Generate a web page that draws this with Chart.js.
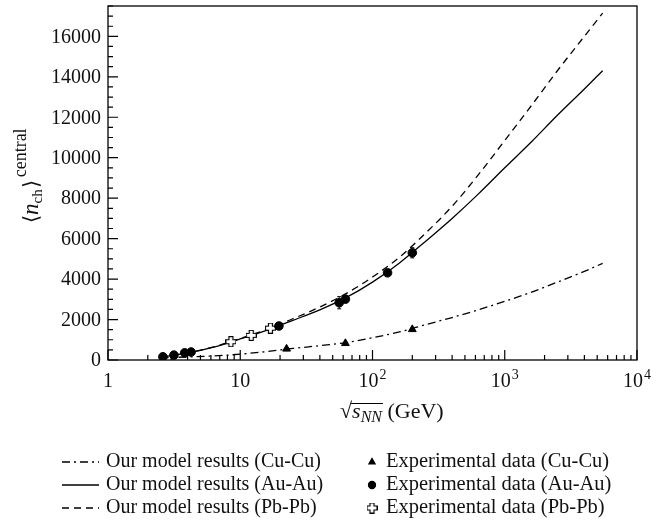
<!DOCTYPE html>
<html>
<head>
<meta charset="utf-8">
<script src="https://cdn.jsdelivr.net/npm/chart.js@4.4.0/dist/chart.umd.min.js"></script>
<style>
    html, body { margin: 0; padding: 0; background: #fff; }
    #wrap { width: 666px; height: 523px; }
</style>
</head>
<body>
<div id="wrap"><canvas id="myChart" width="666" height="523"></canvas></div>
<script>
// model curves: sqrt(s_NN) in GeV -> <n_ch> central
model_x = [2.5, 4, 6.3, 10, 16, 25, 40, 63, 100, 160, 250, 400, 630, 1000, 1600, 2500, 4000, 5500];
model_cucu = [110, 150, 200, 290, 420, 570, 710, 860, 1100, 1390, 1740, 2100, 2480, 2900, 3360, 3850, 4380, 4780];
model_auau = [140, 350, 640, 1040, 1480, 1960, 2480, 3080, 3850, 4800, 5850, 7000, 8200, 9500, 10800, 12100, 13400, 14300];
model_pbpb = [140, 355, 650, 1060, 1520, 2040, 2620, 3280, 4100, 5080, 6250, 7600, 9150, 10850, 12600, 14300, 16000, 17150];

// experimental points
exp_cucu_x = [22.4, 62.4, 200];
exp_cucu = [550, 825, 1515];
exp_auau_x = [2.6, 3.15, 3.8, 4.25, 19.6, 56, 62.4, 130, 200];
exp_auau = [160, 240, 355, 395, 1680, 2830, 3010, 4310, 5300];
exp_auau_err = [0, 0, 0, 0, 0, 300, 0, 0, 250];
exp_pbpb_x = [8.5, 12.1, 16.9];
exp_pbpb = [905, 1220, 1575];

// axis ticks
x_ticks = [1, 10, 100, 1000, 10000];
x_tick_base = ['1', '10', '10', '10', '10'];
x_tick_sup = ['', '', '2', '3', '4'];
y_ticks = [0, 2000, 4000, 6000, 8000, 10000, 12000, 14000, 16000];

legend_left = ['Our model results (Cu-Cu)', 'Our model results (Au-Au)', 'Our model results (Pb-Pb)'];
legend_right = ['Experimental data (Cu-Cu)', 'Experimental data (Au-Au)', 'Experimental data (Pb-Pb)'];

var FONT = '"Liberation Serif", "Times New Roman", serif';
var INK = '#111';

function pts(xs, ys) {
    return xs.map((x, i) => ({ x: x, y: ys[i] }));
}

// open "plus" marker used for Pb-Pb data
function crossImg() {
    var c = document.createElement('canvas');
    c.width = 11; c.height = 11;
    var g = c.getContext('2d');
    var p = [[3.5, 0.5], [7.5, 0.5], [7.5, 3.5], [10.5, 3.5], [10.5, 7.5], [7.5, 7.5], [7.5, 10.5], [3.5, 10.5], [3.5, 7.5], [0.5, 7.5], [0.5, 3.5], [3.5, 3.5]];
    g.beginPath();
    g.moveTo(p[0][0], p[0][1]);
    for (var i = 1; i < p.length; i++) g.lineTo(p[i][0], p[i][1]);
    g.closePath();
    g.fillStyle = '#fff';
    g.fill();
    g.strokeStyle = '#000';
    g.lineWidth = 1.2;
    g.stroke();
    return c;
}
var cross = crossImg();

var dashCu = [8, 4, 2, 4];
var dashPb = [7, 5];

function lineSet(label, ys, dash) {
    return {
        label: label, data: pts(model_x, ys), showLine: true, borderColor: '#000', borderWidth: 1.3,
        borderDash: dash, pointRadius: 0, fill: false, cubicInterpolationMode: 'monotone', order: 2
    };
}
function pointSet(label, xs, ys, style, r) {
    return {
        label: label, data: pts(xs, ys), showLine: false, pointStyle: style, pointRadius: r,
        backgroundColor: '#000', borderColor: '#000', borderWidth: 1, order: 1
    };
}

var datasets = [
    lineSet(legend_left[0], model_cucu, dashCu),
    lineSet(legend_left[1], model_auau, []),
    lineSet(legend_left[2], model_pbpb, dashPb),
    pointSet(legend_right[0], exp_cucu_x, exp_cucu, 'triangle', 4.5),
    pointSet(legend_right[1], exp_auau_x, exp_auau, 'circle', 4.3),
    pointSet(legend_right[2], exp_pbpb_x, exp_pbpb, cross, 5)
];

function supText(ctx, base, sup, x, y, size, align) {
    ctx.font = size + 'px ' + FONT;
    var wb = ctx.measureText(base).width;
    ctx.font = Math.round(size * 0.7) + 'px ' + FONT;
    var ws = sup ? ctx.measureText(sup).width + 1 : 0;
    var start = align == 'center' ? x - (wb + ws) / 2 : x;
    ctx.textAlign = 'left';
    ctx.font = size + 'px ' + FONT;
    ctx.fillText(base, start, y);
    if (sup) {
        ctx.font = Math.round(size * 0.7) + 'px ' + FONT;
        ctx.fillText(sup, start + wb + 1, y - size * 0.42);
    }
}

var framePlugin = {
    id: 'frame',
    beforeDatasetsDraw: function (chart) {
        // error bars of Au-Au data
        var ctx = chart.ctx, xs = chart.scales.x, ys = chart.scales.y;
        ctx.save();
        ctx.strokeStyle = '#000';
        ctx.lineWidth = 1;
        exp_auau_x.forEach(function (x, i) {
            if (!exp_auau_err[i]) return;
            var px = xs.getPixelForValue(x);
            var y1 = ys.getPixelForValue(exp_auau[i] - exp_auau_err[i]);
            var y2 = ys.getPixelForValue(exp_auau[i] + exp_auau_err[i]);
            ctx.beginPath();
            ctx.moveTo(px, y1); ctx.lineTo(px, y2);
            ctx.moveTo(px - 2, y1); ctx.lineTo(px + 2, y1);
            ctx.moveTo(px - 2, y2); ctx.lineTo(px + 2, y2);
            ctx.stroke();
        });
        ctx.restore();
    },
    afterDraw: function (chart) {
        var ctx = chart.ctx, a = chart.chartArea, xs = chart.scales.x, ys = chart.scales.y;
        ctx.save();
        ctx.strokeStyle = '#000';
        ctx.fillStyle = INK;
        ctx.lineWidth = 1.3;
        ctx.strokeRect(a.left, a.top, a.right - a.left, a.bottom - a.top);

        // x ticks (inward)
        ctx.lineWidth = 1.2;
        ctx.beginPath();
        for (var k = 0; k < x_ticks.length; k++) {
            var v = x_ticks[k];
            var px = xs.getPixelForValue(v);
            ctx.moveTo(px, a.bottom); ctx.lineTo(px, a.bottom - 10);
            if (k < x_ticks.length - 1) {
                for (var d = 2; d <= 9; d++) {
                    var pm = xs.getPixelForValue(v * d);
                    ctx.moveTo(pm, a.bottom); ctx.lineTo(pm, a.bottom - 5);
                }
            }
        }
        // y ticks (inward)
        for (var yv = 0; yv <= ys.max; yv += 500) {
            var py = ys.getPixelForValue(yv);
            var len = (yv % 2000 == 0) ? 10 : 5;
            ctx.moveTo(a.left, py); ctx.lineTo(a.left + len, py);
        }
        ctx.stroke();

        // tick labels
        ctx.textBaseline = 'alphabetic';
        x_ticks.forEach(function (v, i) {
            supText(ctx, x_tick_base[i], x_tick_sup[i], xs.getPixelForValue(v), 387, 20, 'center');
        });
        ctx.font = '20px ' + FONT;
        ctx.textAlign = 'right';
        ctx.textBaseline = 'middle';
        y_ticks.forEach(function (v) {
            ctx.fillText(String(v), a.left - 7, ys.getPixelForValue(v) + 1);
        });

        // x title: sqrt(s_NN) (GeV)
        ctx.textAlign = 'left';
        ctx.textBaseline = 'alphabetic';
        var tx = 340, ty = 418;
        ctx.font = '22px ' + FONT;
        ctx.fillText('\u221A', tx, ty);
        var x0 = tx + ctx.measureText('\u221A').width;
        ctx.font = 'italic 22px ' + FONT;
        ctx.fillText('s', x0, ty);
        var x1 = x0 + ctx.measureText('s').width;
        ctx.font = 'italic 16px ' + FONT;
        ctx.fillText('NN', x1, ty + 4);
        var x2 = x1 + ctx.measureText('NN').width;
        ctx.lineWidth = 1;
        ctx.beginPath();
        ctx.moveTo(x0 - 1, 403.5); ctx.lineTo(x2 + 1, 403.5);
        ctx.stroke();
        ctx.font = '22px ' + FONT;
        ctx.fillText(' (GeV)', x2, ty);

        // y title: <n_ch>^central
        ctx.save();
        ctx.translate(38, 223);
        ctx.rotate(-Math.PI / 2);
        ctx.font = '21px ' + FONT;
        var cx = 0;
        ctx.fillText('\u27E8', cx, 0);
        cx += ctx.measureText('\u27E8').width;
        ctx.font = 'italic 23px ' + FONT;
        ctx.fillText('n', cx, 0);
        cx += ctx.measureText('n').width;
        ctx.font = '15px ' + FONT;
        ctx.fillText('ch', cx, 4);
        cx += ctx.measureText('ch').width + 1;
        ctx.font = '21px ' + FONT;
        ctx.fillText('\u27E9', cx, 0);
        cx += ctx.measureText('\u27E9').width + 3;
        ctx.font = '18px ' + FONT;
        ctx.fillText('central', cx, -12);
        ctx.restore();

        // legend, two columns
        var rows = [462, 485, 508];
        var dashes = [dashCu, [], dashPb];
        var styles = ['triangle', 'circle', cross];
        ctx.textBaseline = 'middle';
        for (var r = 0; r < 3; r++) {
            var ry = rows[r];
            ctx.setLineDash(dashes[r]);
            ctx.lineWidth = 1.3;
            ctx.beginPath();
            ctx.moveTo(62, ry); ctx.lineTo(99, ry);
            ctx.stroke();
            ctx.setLineDash([]);
            ctx.font = '20px ' + FONT;
            ctx.fillText(legend_left[r], 106, ry);
            ctx.fillStyle = '#000';
            Chart.helpers.drawPoint(ctx, { pointStyle: styles[r], radius: r == 2 ? 5 : 3.5, rotation: 0, borderWidth: 1 }, 372, ry);
            if (r < 2) ctx.fill();
            ctx.fillStyle = INK;
            ctx.font = '20.5px ' + FONT;
            ctx.fillText(legend_right[r], 386, ry);
        }
        ctx.restore();
    }
};

var canvas = document.getElementById('myChart');
var myChart = new Chart(canvas, {
    type: 'scatter',
    data: { datasets: datasets },
    options: {
        responsive: false,
        animation: false,
        events: [],
        layout: { padding: { left: 108, right: 29, top: 5, bottom: 163 } },
        plugins: { legend: { display: false }, tooltip: { enabled: false } },
        scales: {
            x: {
                type: 'logarithmic', min: 1, max: 10000,
                ticks: { display: false }, grid: { display: false }, border: { display: false },
                afterFit: function (s) { s.height = 0; }
            },
            y: {
                type: 'linear', min: 0, max: 17500,
                ticks: { display: false }, grid: { display: false }, border: { display: false },
                afterFit: function (s) { s.width = 0; }
            }
        }
    },
    plugins: [framePlugin]
});
</script>
</body>
</html>
